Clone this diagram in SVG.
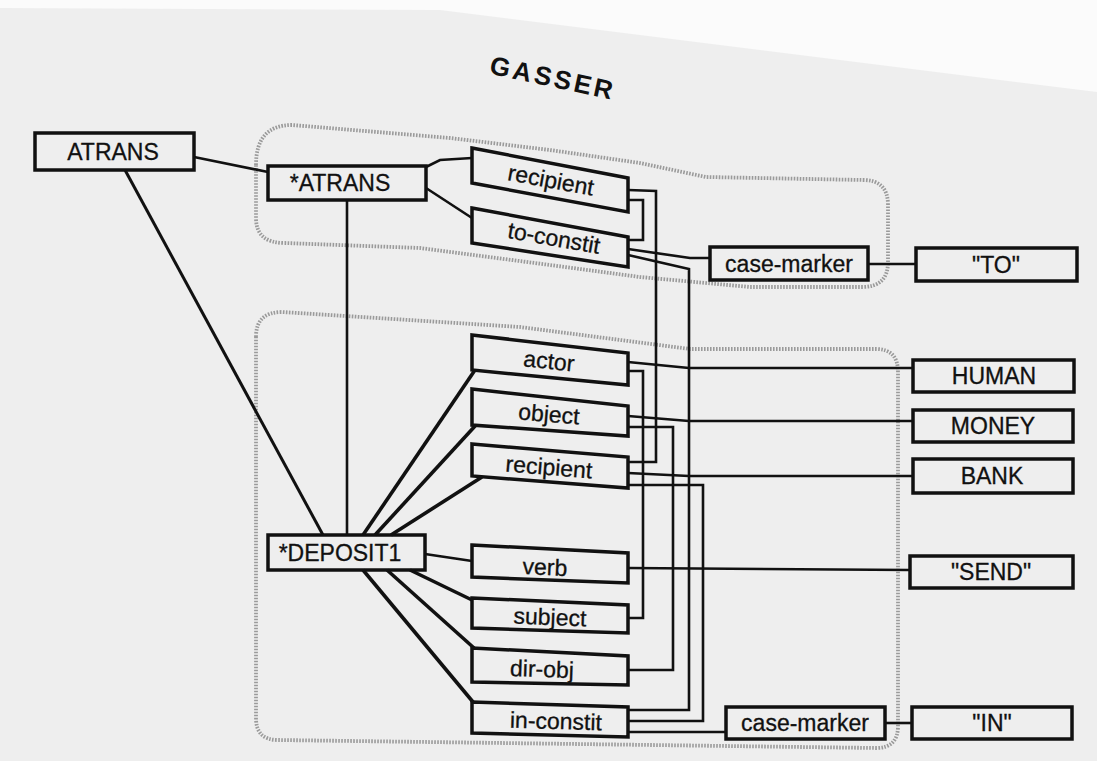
<svg xmlns="http://www.w3.org/2000/svg" width="1097" height="761" viewBox="0 0 1097 761">
<style>
.box{fill:none;stroke:#111;stroke-width:3.5;stroke-linejoin:miter}
.c{fill:none;stroke:#111;stroke-width:2.6;stroke-linejoin:miter}
.t{fill:none;stroke:#111;stroke-width:3.6}
.blob{fill:none;stroke:#9a9a9a;stroke-width:3.8;stroke-dasharray:1.6 1.4}
text{font-family:"Liberation Sans",Arial,sans-serif;font-size:23px;fill:#111;stroke:#111;stroke-width:0.3;text-anchor:middle}
.title{font-weight:bold;font-size:26px;letter-spacing:3px;stroke-width:0}
</style>
<rect width="1097" height="761" fill="#eeeeee"/>
<polygon points="0,0 1097,0 1097,92 440,10 0,8" fill="#fbfbfb"/>
<text class="title" x="553" y="87" transform="rotate(12 553 78)">GASSER</text>

<g id="regions">
<path class="blob" d="M256,165 Q256,125 292,125 L450,138 L550,150 L640,163 L706,177 L863,180 Q888,180 888,205 L888,262 Q888,287 862,287 L750,287 L640,277 L550,265 L420,248 L285,243 Q256,243 256,218 Z"/>
<path class="blob" d="M256,337 Q256,312 282,312 L520,327 L690,349 L876,349 Q898,349 898,372 L898,726 Q898,748 876,748 L278,740 Q256,740 256,718 Z"/>
</g>

<g id="connectors">
<polyline class="c" points="194,157 268,172"/>
<line class="t" x1="125" y1="170" x2="323" y2="535" style="stroke-width:3"/>
<line class="c" x1="347" y1="201" x2="347" y2="535"/>
<polyline class="c" points="426,167 440,160 472,158"/>
<polyline class="c" points="426,188 472,218"/>
<polyline class="c" points="628,190 656,191 656,462 628,462"/>
<polyline class="c" points="628,200 643,200 643,240 628,240"/>
<polyline class="c" points="628,249 690,258 710,258"/>
<polyline class="c" points="628,255 689,269 689,710 628,710"/>
<line class="c" x1="868" y1="264" x2="916" y2="264"/>
<polyline class="c" points="628,362 689,368 913,368"/>
<polyline class="c" points="628,371 643,371 643,618 628,618"/>
<polyline class="c" points="628,416 689,421 913,421"/>
<polyline class="c" points="628,427 673,427 673,670 628,670"/>
<polyline class="c" points="628,473 689,476 913,476"/>
<polyline class="c" points="628,485 703,485 703,721 628,721"/>
<polyline class="c" points="628,568 910,570"/>
<line class="c" x1="628" y1="732" x2="726" y2="732"/>
<line class="c" x1="885" y1="723" x2="912" y2="723"/>
<line class="t" x1="363" y1="535" x2="475" y2="370"/>
<line class="t" x1="375" y1="535" x2="476" y2="425"/>
<line class="t" x1="391" y1="535" x2="482" y2="477"/>
<line class="c" x1="425" y1="554" x2="472" y2="561"/>
<line class="t" x1="410" y1="570" x2="472" y2="600"/>
<line class="t" x1="387" y1="570" x2="474" y2="648"/>
<line class="t" x1="363" y1="570" x2="473" y2="702"/>
</g>

<g id="atrans">
<rect class="box" x="35" y="133" width="159" height="37"/>
<text x="113" y="160">ATRANS</text>
</g>
<g id="atrans-instance">
<rect class="box" x="268" y="166" width="158" height="34"/>
<text x="340" y="191">*ATRANS</text>
</g>
<g id="deposit1">
<rect class="box" x="268" y="535" width="157" height="35"/>
<text x="340" y="561">*DEPOSIT1</text>
</g>

<g id="recipient-top">
<polygon class="box" points="472,148 628,178 628,212 472,183"/>
<text x="551" y="188" transform="rotate(10.5 551 180)">recipient</text>
</g>
<g id="to-constit">
<polygon class="box" points="472,208 628,237 628,267 472,243"/>
<text x="554" y="246" transform="rotate(10 554 238)">to-constit</text>
</g>
<g id="actor">
<polygon class="box" points="472,335 628,353 628,385 472,370"/>
<text x="549" y="369" transform="rotate(6 549 361)">actor</text>
</g>
<g id="object">
<polygon class="box" points="472,389 628,406 628,436 472,425"/>
<text x="549" y="422" transform="rotate(5 549 414)">object</text>
</g>
<g id="recipient-low">
<polygon class="box" points="472,444 628,457 628,488 472,476"/>
<text x="549" y="475" transform="rotate(4.6 549 467)">recipient</text>
</g>
<g id="verb">
<polygon class="box" points="472,545 628,553 628,583 472,577"/>
<text x="545" y="575" transform="rotate(2.5 545 567)">verb</text>
</g>
<g id="subject">
<polygon class="box" points="472,598 628,605 628,633 472,628"/>
<text x="550" y="625" transform="rotate(2.2 550 617)">subject</text>
</g>
<g id="dir-obj">
<polygon class="box" points="472,648 628,656 628,685 472,682"/>
<text x="542" y="677" transform="rotate(2 542 669)">dir-obj</text>
</g>
<g id="in-constit">
<polygon class="box" points="472,702 628,707 628,737 472,733"/>
<text x="556" y="729" transform="rotate(1.7 556 721)">in-constit</text>
</g>

<g id="case-marker-top">
<rect class="box" x="710" y="247" width="158" height="33"/>
<text x="789" y="272">case-marker</text>
</g>
<g id="to">
<rect class="box" x="916" y="248" width="161" height="33"/>
<text x="996" y="273">"TO"</text>
</g>
<g id="human">
<rect class="box" x="913" y="360" width="161" height="32"/>
<text x="994" y="384">HUMAN</text>
</g>
<g id="money">
<rect class="box" x="913" y="410" width="160" height="32"/>
<text x="993" y="434">MONEY</text>
</g>
<g id="bank">
<rect class="box" x="913" y="459" width="160" height="34"/>
<text x="992" y="484">BANK</text>
</g>
<g id="send">
<rect class="box" x="910" y="556" width="163" height="32"/>
<text x="991" y="580">"SEND"</text>
</g>
<g id="case-marker-low">
<rect class="box" x="726" y="707" width="159" height="32"/>
<text x="805" y="731">case-marker</text>
</g>
<g id="in">
<rect class="box" x="912" y="707" width="160" height="32"/>
<text x="992" y="731">"IN"</text>
</g>
</svg>
